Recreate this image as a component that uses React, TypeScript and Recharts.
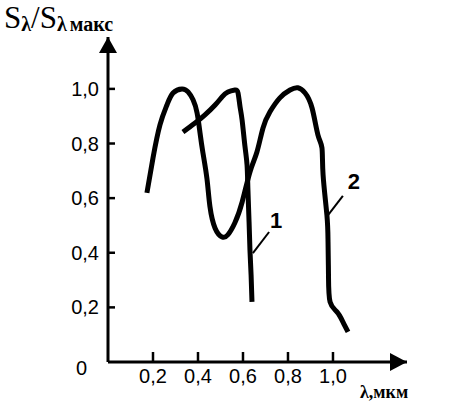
import { LineChart, Line, XAxis, YAxis, ReferenceLine, ReferenceDot } from 'recharts';

const xMax = 1.329;
const yMax = 1.19;
const xTicks = [0.2, 0.4, 0.6, 0.8, 1.0];
const yTicks = [0, 0.2, 0.4, 0.6, 0.8, 1.0];

// curve 1 (single peak, steep drop)
const lambda1 = [0.333, 0.387, 0.431, 0.476, 0.507, 0.533, 0.564, 0.578, 0.587, 0.596, 0.609, 0.618, 0.622, 0.627, 0.631, 0.636, 0.64];
const s1 = [0.842, 0.875, 0.905, 0.941, 0.971, 0.989, 0.996, 0.985, 0.934, 0.886, 0.788, 0.722, 0.63, 0.513, 0.41, 0.319, 0.22];

// curve 2 (two peaks)
const lambda2 = [
  0.173, 0.2, 0.231, 0.262, 0.289, 0.329, 0.356, 0.378, 0.396, 0.409, 0.422, 0.44, 0.453, 0.476, 0.507, 0.533,
  0.564, 0.596, 0.631, 0.662, 0.689, 0.72, 0.764, 0.809, 0.844, 0.876, 0.907, 0.933, 0.951, 0.956, 0.973,
  0.978, 0.98, 0.987, 1.018, 1.044, 1.067,
];
const s2 = [
  0.619, 0.747, 0.868, 0.941, 0.985, 1.0, 0.989, 0.96, 0.912, 0.839, 0.766, 0.67, 0.57, 0.49, 0.458, 0.466,
  0.51, 0.585, 0.696, 0.769, 0.857, 0.916, 0.967, 0.996, 1.004, 0.985, 0.93, 0.832, 0.784, 0.685, 0.538,
  0.44, 0.319, 0.22, 0.183, 0.147, 0.11,
];

// callouts: leader line ends and label anchor
const leader1 = [{ x: 0.644, y: 0.399 }, { x: 0.716, y: 0.476 }];
const label1 = { x: 0.747, y: 0.52, text: '1' };
const leader2 = [{ x: 0.978, y: 0.538 }, { x: 1.044, y: 0.608 }];
const label2 = { x: 1.093, y: 0.663, text: '2' };

const toPoints = (xs: number[], ys: number[]) => xs.map((x, i) => ({ x, y: ys[i] }));
const curve1 = toPoints(lambda1, s1);
const curve2 = toPoints(lambda2, s2);

const sans = 'Liberation Sans, Arial, sans-serif';
const serif = 'Liberation Serif, Times New Roman, serif';

const fmt = (v: number) => v.toFixed(1).replace('.', ',');

const XTick = ({ x, y, payload }: any) => (
  <g>
    <line x1={x} y1={y - 6} x2={x} y2={y - 16} stroke="#000" strokeWidth={2.5} />
    <text x={x} y={y + 15} textAnchor="middle" fontFamily={sans} fontSize={20} fill="#000">
      {fmt(payload.value)}
    </text>
  </g>
);

const YTick = ({ x, y, payload }: any) => {
  if (payload.value === 0) {
    return (
      <text x={x - 12} y={y + 13} textAnchor="end" fontFamily={sans} fontSize={20} fill="#000">
        0
      </text>
    );
  }
  return (
    <g>
      <line x1={x + 9} y1={y} x2={x + 16} y2={y} stroke="#000" strokeWidth={2.5} />
      <text x={x} y={y + 7} textAnchor="end" fontFamily={sans} fontSize={20} fill="#000">
        {fmt(payload.value)}
      </text>
    </g>
  );
};

const ArrowRight = ({ cx, cy }: any) => <path d={`M${cx - 17},${cy - 9} L${cx},${cy} L${cx - 17},${cy + 9} Z`} fill="#000" />;
const ArrowUp = ({ cx, cy }: any) => <path d={`M${cx - 9},${cy + 16} L${cx},${cy} L${cx + 9},${cy + 16} Z`} fill="#000" />;

export default function App() {
  return (
    <div style={{ position: 'absolute', left: 0, top: 0, width: 450, height: 419, background: '#fff' }}>
      <LineChart width={450} height={419} margin={{ top: 37, right: 43, bottom: 17, left: 48 }}>
        <XAxis
          type="number"
          dataKey="x"
          domain={[0, xMax]}
          ticks={xTicks}
          height={40}
          tickSize={0}
          tickMargin={6}
          tick={<XTick />}
          axisLine={{ stroke: '#000', strokeWidth: 3 }}
          tickLine={false}
        />
        <YAxis
          type="number"
          domain={[0, yMax]}
          ticks={yTicks}
          width={60}
          tickSize={0}
          tickMargin={9}
          tick={<YTick />}
          axisLine={{ stroke: '#000', strokeWidth: 3 }}
          tickLine={false}
        />
        <Line data={curve2} dataKey="y" type="natural" stroke="#000" strokeWidth={5} dot={false} isAnimationActive={false} />
        <Line data={curve1} dataKey="y" type="natural" stroke="#000" strokeWidth={5} dot={false} isAnimationActive={false} />
        <ReferenceLine segment={leader1} stroke="#000" strokeWidth={2} />
        <ReferenceLine segment={leader2} stroke="#000" strokeWidth={2} />
        <ReferenceDot x={xMax} y={0} ifOverflow="visible" shape={<ArrowRight />} />
        <ReferenceDot x={0} y={yMax} ifOverflow="visible" shape={<ArrowUp />} />
        <ReferenceDot
          x={label1.x}
          y={label1.y}
          r={0}
          label={{ value: label1.text, position: 'center', fontFamily: sans, fontSize: 22, fontWeight: 'bold', fill: '#000' }}
        />
        <ReferenceDot
          x={label2.x}
          y={label2.y}
          r={0}
          label={{ value: label2.text, position: 'center', fontFamily: sans, fontSize: 22, fontWeight: 'bold', fill: '#000' }}
        />
      </LineChart>
      <svg width={450} height={419} style={{ position: 'absolute', left: 0, top: 0, pointerEvents: 'none' }}>
        <text x={4} y={28} fontFamily={serif} fontSize={31} fill="#000">
          S
          <tspan fontSize={20} fontWeight="bold" dy={3}>λ</tspan>
          <tspan dy={-3}>/S</tspan>
          <tspan fontSize={20} fontWeight="bold" dy={3}>λ</tspan>
          <tspan fontSize={20} fontWeight="bold" dx={3}>макс</tspan>
        </text>
        <text x={360} y={398} fontFamily={serif} fontSize={18} fontWeight="bold" fill="#000">
          λ,мкм
        </text>
      </svg>
    </div>
  );
}
